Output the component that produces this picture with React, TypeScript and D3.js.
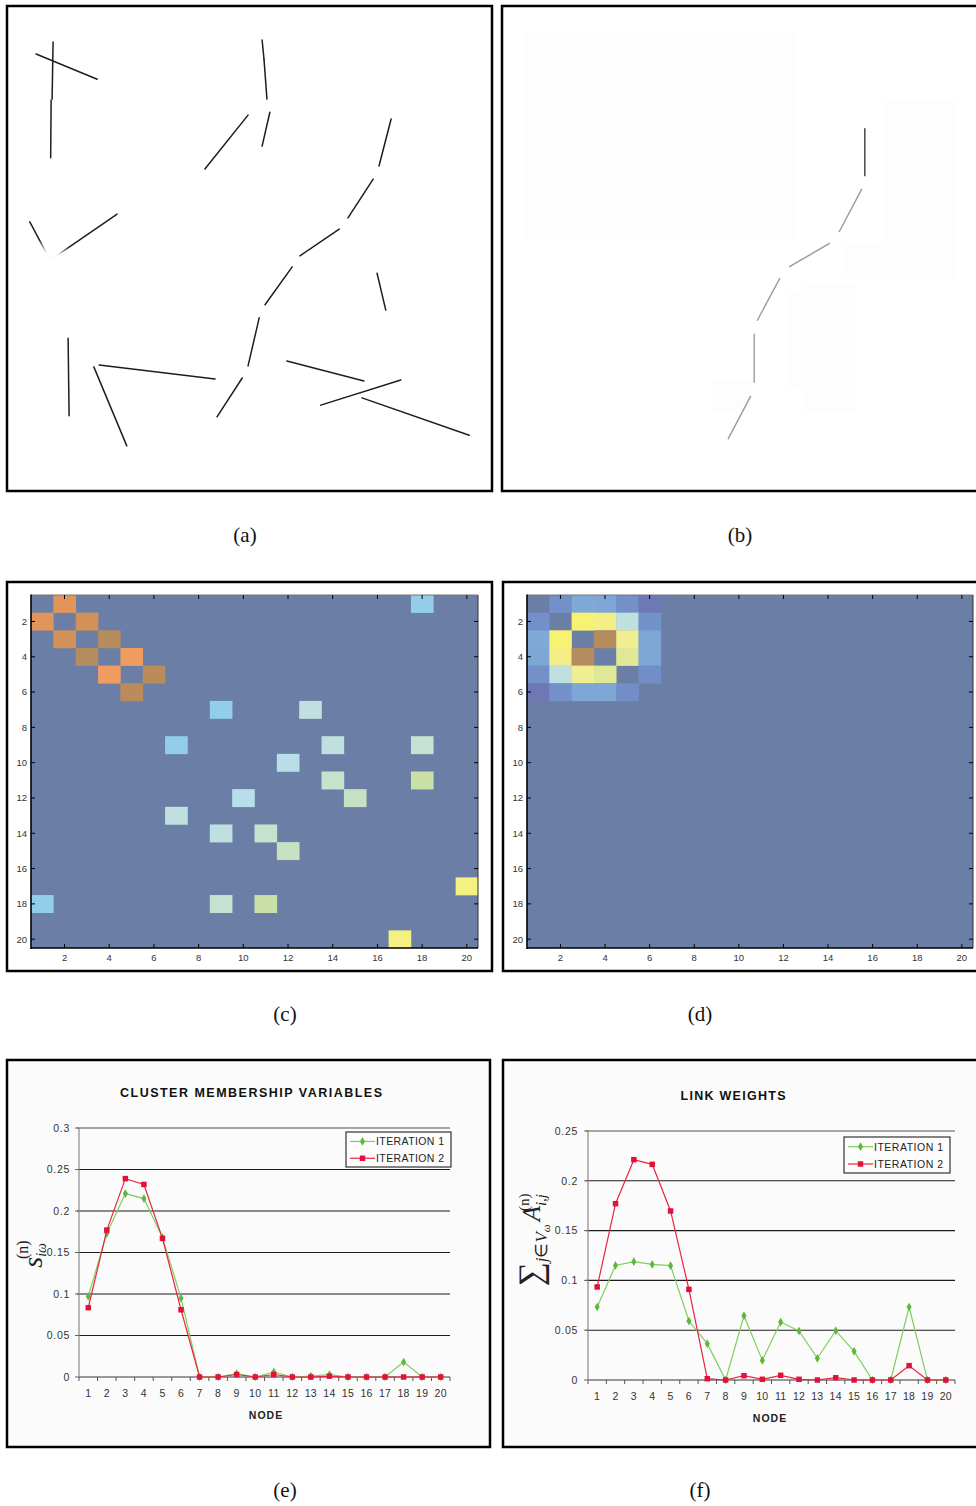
import React from 'react';
import * as d3 from 'd3';

const W = 976;
const H = 1506;
const SANS = '"Liberation Sans", Arial, sans-serif';
const SERIF = '"Liberation Serif", "Times New Roman", serif';

// ---- (a) line-segment scene, in frame units (0..100) ----
const sceneSegments: number[][] = [
  [9.5, 7.4, 9.3, 19.2],
  [9.1, 19.4, 9.0, 31.3],
  [6.0, 9.9, 18.6, 15.1],
  [52.6, 7.0, 53.0, 11.1],
  [53.0, 11.1, 53.6, 19.2],
  [54.2, 21.9, 52.6, 28.9],
  [49.7, 22.5, 40.8, 33.6],
  [79.2, 23.3, 76.7, 33.0],
  [75.5, 35.7, 70.3, 43.7],
  [68.5, 46.0, 60.4, 51.5],
  [58.8, 53.8, 53.2, 61.6],
  [76.3, 55.1, 78.1, 62.7],
  [52.0, 64.3, 49.7, 74.2],
  [12.6, 68.5, 12.8, 84.5],
  [19.0, 74.0, 42.9, 76.9],
  [17.9, 74.4, 24.7, 90.7],
  [48.5, 76.7, 43.3, 84.7],
  [57.7, 73.2, 73.6, 77.3],
  [81.2, 77.1, 64.7, 82.3],
  [73.2, 80.8, 95.3, 88.5],
];
// two strokes meeting at a washed-out junction
const fadedSegments: number[][] = [
  [4.7, 44.5, 8.9, 52.4],
  [22.7, 42.9, 8.9, 52.4],
];
const fadeCenter = [8.9, 52.6];

// ---- (b) extracted contour ----
const traceSegmentsDark: number[][] = [[74.8, 25.2, 74.8, 35.1]];
const traceSegments: number[][] = [
  [74.2, 37.7, 69.5, 46.6],
  [67.6, 48.9, 59.2, 53.8],
  [57.3, 56.1, 52.6, 64.9],
  [52.0, 67.6, 52.0, 77.7],
  [51.3, 80.4, 46.6, 89.3],
];
const traceRegions: number[][] = [
  [4.7, 5.2, 60.2, 48.5],
  [78.8, 19.6, 93.6, 56.5],
  [70.9, 48.9, 78.8, 56.1],
  [58.8, 59.2, 72.8, 78.8],
  [62.1, 57.1, 72.8, 83.9],
  [43.1, 76.9, 51.8, 83.7],
];

// ---- (c), (d) affinity matrices: [row, col, value], symmetric ----
const N = 20;
const matrixTicks = [2, 4, 6, 8, 10, 12, 14, 16, 18, 20];
const affinityEdges: number[][] = [
  [1, 2, 0.9],
  [2, 3, 0.92],
  [3, 4, 1.0],
  [4, 5, 0.85],
  [5, 6, 0.97],
  [1, 18, 0.4],
  [7, 9, 0.4],
  [7, 13, 0.52],
  [9, 14, 0.52],
  [9, 18, 0.55],
  [10, 12, 0.48],
  [11, 14, 0.56],
  [11, 18, 0.6],
  [12, 15, 0.57],
  [17, 20, 0.73],
];
const clusterEdges: number[][] = [
  [1, 2, 0.2],
  [1, 3, 0.3],
  [1, 4, 0.29],
  [1, 5, 0.2],
  [1, 6, 0.1],
  [2, 3, 0.76],
  [2, 4, 0.72],
  [2, 5, 0.52],
  [2, 6, 0.2],
  [3, 4, 1.0],
  [3, 5, 0.7],
  [3, 6, 0.29],
  [4, 5, 0.66],
  [4, 6, 0.29],
  [5, 6, 0.19],
];
const heatStops = [0, 0.1, 0.2, 0.3, 0.4, 0.48, 0.52, 0.56, 0.6, 0.66, 0.7, 0.76, 0.85, 0.9, 0.95, 1.0];
const heatColors = [
  '#6b7ea6', '#6e78b4', '#7390c8', '#80a9d8', '#92cde9', '#b8dfe9', '#c0e0e0', '#c5e3cc',
  '#cbe0a8', '#e0e898', '#f0ee90', '#f8f272', '#f09c60', '#e0955a', '#c08a5a', '#b58c5e',
];

// ---- (e), (f) per-node curves ----
const nodes = d3.range(1, 21);
const membershipIter1 = [0.097, 0.173, 0.221, 0.215, 0.168, 0.095, 0, 0, 0.004, 0, 0.006, 0, 0.001, 0.003, 0, 0, 0, 0.018, 0, 0];
const membershipIter2 = [0.0835, 0.177, 0.239, 0.232, 0.167, 0.081, 0, 0, 0.003, 0, 0.003, 0, 0, 0.001, 0, 0, 0, 0, 0, 0];
const membershipTicks = [0, 0.05, 0.1, 0.15, 0.2, 0.25, 0.3];
const linkIter1 = [0.0733, 0.115, 0.1188, 0.116, 0.1148, 0.0592, 0.0365, 0, 0.0646, 0.0197, 0.0582, 0.0492, 0.0218, 0.0495, 0.0288, 0, 0, 0.0733, 0, 0];
const linkIter2 = [0.0934, 0.177, 0.2212, 0.2165, 0.1697, 0.091, 0.0013, 0, 0.0043, 0.0007, 0.0047, 0.0007, 0, 0.0023, 0, 0, 0, 0.0144, 0, 0];
const linkTicks = [0, 0.05, 0.1, 0.15, 0.2, 0.25];
const seriesNames = ['ITERATION 1', 'ITERATION 2'];

const GREEN_LINE = '#7fcf5e';
const GREEN_MARK = '#5db83a';
const RED_LINE = '#e8253f';
const RED_MARK = '#e0123a';

type Box = { x: number; y: number; w: number; h: number };

function Scene({ frame, uid }: { frame: Box; uid: string }) {
  const sx = d3.scaleLinear().domain([0, 100]).range([frame.x, frame.x + 485]);
  const sy = d3.scaleLinear().domain([0, 100]).range([frame.y, frame.y + 485]);
  return (
    <g>
      <defs>
        <radialGradient id={uid}>
          <stop offset="0%" stopColor="#fff" stopOpacity={1} />
          <stop offset="40%" stopColor="#fff" stopOpacity={0.96} />
          <stop offset="100%" stopColor="#fff" stopOpacity={0} />
        </radialGradient>
      </defs>
      {sceneSegments.concat(fadedSegments).map((s, i) => (
        <line key={i} x1={sx(s[0])} y1={sy(s[1])} x2={sx(s[2])} y2={sy(s[3])}
          stroke="#1e1e1e" strokeWidth={1.5} strokeLinecap="round" />
      ))}
      <circle cx={sx(fadeCenter[0])} cy={sy(fadeCenter[1])} r={24} fill={`url(#${uid})`} />
    </g>
  );
}

function Trace({ frame }: { frame: Box }) {
  const sx = d3.scaleLinear().domain([0, 100]).range([frame.x, frame.x + 485]);
  const sy = d3.scaleLinear().domain([0, 100]).range([frame.y, frame.y + 485]);
  return (
    <g>
      {traceRegions.map((r, i) => (
        <rect key={i} x={sx(r[0])} y={sy(r[1])} width={sx(r[2]) - sx(r[0])} height={sy(r[3]) - sy(r[1])}
          fill="#fdfdfd" />
      ))}
      {traceSegmentsDark.map((s, i) => (
        <line key={'d' + i} x1={sx(s[0])} y1={sy(s[1])} x2={sx(s[2])} y2={sy(s[3])}
          stroke="#505050" strokeWidth={1.6} />
      ))}
      {traceSegments.map((s, i) => (
        <line key={i} x1={sx(s[0])} y1={sy(s[1])} x2={sx(s[2])} y2={sy(s[3])}
          stroke="#9a9a9a" strokeWidth={1.4} />
      ))}
    </g>
  );
}

function Heatmap({ area, edges }: { area: Box; edges: number[][] }) {
  const xs = d3.scaleLinear().domain([0.5, N + 0.5]).range([area.x, area.x + area.w]);
  const ys = d3.scaleLinear().domain([0.5, N + 0.5]).range([area.y, area.y + area.h]);
  const color = d3.scaleLinear<string>().domain(heatStops).range(heatColors).interpolate(d3.interpolateRgb).clamp(true);
  const m: number[][] = d3.range(N).map(() => new Array(N).fill(0));
  edges.forEach(([i, j, v]) => {
    m[i - 1][j - 1] = v;
    m[j - 1][i - 1] = v;
  });
  const cells: { r: number; c: number; v: number }[] = [];
  m.forEach((row, r) => row.forEach((v, c) => cells.push({ r: r + 1, c: c + 1, v })));
  const x0 = area.x, x1 = area.x + area.w, y0 = area.y, y1 = area.y + area.h;
  const tl = 4;
  return (
    <g>
      <rect x={x0} y={y0} width={area.w} height={area.h} fill={color(0)} />
      {cells.filter((d) => d.v > 0).map((d) => (
        <rect key={d.r + '-' + d.c}
          x={xs(d.c - 0.5)} y={ys(d.r - 0.5)}
          width={xs(d.c + 0.5) - xs(d.c - 0.5) + 0.3} height={ys(d.r + 0.5) - ys(d.r - 0.5) + 0.3}
          fill={color(d.v)} />
      ))}
      <line x1={x0} y1={y0} x2={x1} y2={y0} stroke="#777" strokeWidth={1} />
      <line x1={x1} y1={y0} x2={x1} y2={y1} stroke="#333" strokeWidth={1} />
      <line x1={x0} y1={y0 - 0.5} x2={x0} y2={y1 + 1} stroke="#000" strokeWidth={1.6} />
      <line x1={x0} y1={y1} x2={x1} y2={y1} stroke="#000" strokeWidth={1.6} />
      {matrixTicks.map((t) => (
        <g key={t}>
          <line x1={x0} y1={ys(t)} x2={x0 + tl} y2={ys(t)} stroke="#000" strokeWidth={1} />
          <line x1={x1} y1={ys(t)} x2={x1 - tl} y2={ys(t)} stroke="#000" strokeWidth={1} />
          <line x1={xs(t)} y1={y0} x2={xs(t)} y2={y0 + tl} stroke="#000" strokeWidth={1} />
          <line x1={xs(t)} y1={y1} x2={xs(t)} y2={y1 - tl} stroke="#000" strokeWidth={1} />
          <text x={x0 - 4} y={ys(t) + 3.4} textAnchor="end" fontFamily={SANS} fontSize={9.5} fill="#333">{t}</text>
          <text x={xs(t)} y={y1 + 12.5} textAnchor="middle" fontFamily={SANS} fontSize={9.5} fill="#333">{t}</text>
        </g>
      ))}
    </g>
  );
}

type ChartProps = {
  area: Box;
  ticks: number[];
  s1: number[];
  s2: number[];
  title: string;
  titleX: number;
  titleLen: number;
  labelRight: number;
  legend: { x: number; y: number; w: number; h: number };
  nodeX: number;
};

function LineChart({ area, ticks, s1, s2, title, titleX, titleLen, labelRight, legend, nodeX }: ChartProps) {
  const x = d3.scaleBand<number>().domain(nodes).range([area.x, area.x + area.w]);
  const yMax = ticks[ticks.length - 1];
  const y = d3.scaleLinear().domain([0, yMax]).range([area.y + area.h, area.y]);
  const cx = (n: number) => (x(n) as number) + x.bandwidth() / 2;
  const line = d3.line<number>().x((_, i) => cx(nodes[i])).y((v) => y(v));
  const diamond = d3.symbol().type(d3.symbolDiamond).size(22)() as string;
  const square = d3.symbol().type(d3.symbolSquare).size(30)() as string;
  const x0 = area.x, x1 = area.x + area.w;
  const base = y(0);
  const bounds = d3.range(0, nodes.length + 1).map((i) => area.x + i * x.bandwidth());
  return (
    <g>
      <text x={titleX} y={area.y - 31} textAnchor="middle" fontFamily={SANS} fontWeight="bold" fontSize={12.5}
        fill="#111" textLength={titleLen} lengthAdjust="spacing">{title}</text>
      {ticks.filter((t) => t > 0).map((t) => (
        <line key={'g' + t} x1={x0 - 2} y1={y(t)} x2={x1} y2={y(t)}
          stroke={t === yMax ? '#8a8a8a' : '#1c1c1c'} strokeWidth={t === yMax ? 1.4 : 1.1} />
      ))}
      <line x1={x0} y1={area.y} x2={x0} y2={base} stroke="#8a8a8a" strokeWidth={1.2} />
      {ticks.map((t) => (
        <g key={'t' + t}>
          <line x1={x0 - 4} y1={y(t)} x2={x0} y2={y(t)} stroke="#666" strokeWidth={1} />
          <text x={labelRight} y={y(t) + 3.8} textAnchor="end" fontFamily={SANS} fontSize={10.5}
            letterSpacing={0.7} fill="#333">{String(t)}</text>
        </g>
      ))}
      <line x1={x0} y1={base} x2={x1} y2={base} stroke="#777" strokeWidth={1.3} />
      {bounds.map((bx, i) => (
        <line key={'b' + i} x1={bx} y1={base} x2={bx} y2={base + 4} stroke="#555" strokeWidth={1} />
      ))}
      {nodes.map((n) => (
        <text key={'n' + n} x={cx(n)} y={base + 20} textAnchor="middle" fontFamily={SANS} fontSize={10.5}
          letterSpacing={0.3} fill="#333">{n}</text>
      ))}
      <text x={nodeX} y={base + 42} textAnchor="middle" fontFamily={SANS} fontWeight="bold" fontSize={10.5}
        fill="#222" letterSpacing={1}>NODE</text>

      <path d={line(s1) as string} fill="none" stroke={GREEN_LINE} strokeWidth={1.2} />
      {s1.map((v, i) => (
        <path key={'m1' + i} d={diamond} transform={`translate(${cx(nodes[i])},${y(v)})`} fill={GREEN_MARK} />
      ))}
      <path d={line(s2) as string} fill="none" stroke={RED_LINE} strokeWidth={1.2} />
      {s2.map((v, i) => (
        <path key={'m2' + i} d={square} transform={`translate(${cx(nodes[i])},${y(v)})`} fill={RED_MARK} />
      ))}

      <rect x={legend.x} y={legend.y} width={legend.w} height={legend.h} fill="#fcfcfc" stroke="#333" strokeWidth={1.2} />
      {seriesNames.map((name, i) => {
        const ly = legend.y + legend.h * (i === 0 ? 0.27 : 0.75);
        const lx0 = legend.x + 4;
        const lx1 = legend.x + 29;
        return (
          <g key={name}>
            <line x1={lx0} y1={ly} x2={lx1} y2={ly} stroke={i === 0 ? GREEN_LINE : RED_LINE} strokeWidth={1.2} />
            <path d={i === 0 ? diamond : square} transform={`translate(${(lx0 + lx1) / 2},${ly})`}
              fill={i === 0 ? GREEN_MARK : RED_MARK} />
            <text x={lx1 + 1} y={ly + 3.8} fontFamily={SANS} fontSize={10.5} fill="#222"
              textLength={legend.w - 37} lengthAdjust="spacing">{name}</text>
          </g>
        );
      })}
    </g>
  );
}

function Caption({ x, y, label }: { x: number; y: number; label: string }) {
  return (
    <text x={x} y={y} textAnchor="middle" fontFamily={SERIF} fontSize={21} fill="#111">{label}</text>
  );
}

export default function App() {
  const frameA: Box = { x: 7, y: 6, w: 485, h: 485 };
  const frameB: Box = { x: 502, y: 6, w: 490, h: 485 };
  return (
    <svg width={W} height={H} viewBox={`0 0 ${W} ${H}`} style={{ position: 'absolute', left: 0, top: 0, background: '#fff' }}>
      <rect x={0} y={0} width={W} height={H} fill="#fff" />

      {/* (a) */}
      <Scene frame={frameA} uid="fadeA" />
      <rect x={frameA.x} y={frameA.y} width={frameA.w} height={frameA.h} fill="none" stroke="#000" strokeWidth={2.5} />
      <Caption x={245} y={542} label="(a)" />

      {/* (b) */}
      <Trace frame={frameB} />
      <rect x={frameB.x} y={frameB.y} width={frameB.w} height={frameB.h} fill="none" stroke="#000" strokeWidth={2.5} />
      <Caption x={740} y={542} label="(b)" />

      {/* (c) */}
      <Heatmap area={{ x: 31, y: 595, w: 447, h: 353 }} edges={affinityEdges} />
      <rect x={7} y={582} width={485} height={389} fill="none" stroke="#000" strokeWidth={2.5} />
      <Caption x={285} y={1021} label="(c)" />

      {/* (d) */}
      <Heatmap area={{ x: 527, y: 595, w: 446, h: 353 }} edges={clusterEdges} />
      <rect x={503} y={582} width={490} height={389} fill="none" stroke="#000" strokeWidth={2.5} />
      <Caption x={700} y={1021} label="(d)" />

      {/* (e) */}
      <rect x={7} y={1060} width={483} height={387} fill="#fbfbfb" />
      <LineChart area={{ x: 79, y: 1128, w: 371, h: 249 }} ticks={membershipTicks}
        s1={membershipIter1} s2={membershipIter2}
        title="CLUSTER MEMBERSHIP VARIABLES" titleX={251} titleLen={262} labelRight={70}
        legend={{ x: 346, y: 1132, w: 105, h: 35 }} nodeX={266} />
      <text transform="translate(42,1254) rotate(-90)" textAnchor="middle" fontFamily={SERIF} fontSize={28} fill="#222">
        <tspan fontStyle="italic">s</tspan>
        <tspan fontSize={14} fontStyle="italic" dy={4}>iω</tspan>
        <tspan fontSize={16} dx={-16} dy={-18}>(n)</tspan>
      </text>
      <rect x={7} y={1060} width={483} height={387} fill="none" stroke="#000" strokeWidth={2.5} />
      <Caption x={285} y={1497} label="(e)" />

      {/* (f) */}
      <rect x={503} y={1060} width={490} height={387} fill="#fbfbfb" />
      <LineChart area={{ x: 588, y: 1131, w: 367, h: 249 }} ticks={linkTicks}
        s1={linkIter1} s2={linkIter2}
        title="LINK WEIGHTS" titleX={733} titleLen={105} labelRight={578}
        legend={{ x: 844, y: 1137, w: 106, h: 36 }} nodeX={770} />
      <text transform="translate(540,1240) rotate(-90)" textAnchor="middle" fontFamily={SERIF} fontSize={25} fill="#222">
        <tspan fontSize={34} dy={2}>∑</tspan>
        <tspan fontSize={17} fontStyle="italic" dy={5}>j</tspan>
        <tspan fontSize={17}>∈</tspan>
        <tspan fontSize={17} fontStyle="italic">V</tspan>
        <tspan fontSize={11} fontStyle="italic" dy={3}>ω</tspan>
        <tspan fontSize={25} fontStyle="italic" dx={3} dy={-10}>A</tspan>
        <tspan fontSize={15} fontStyle="italic" dy={6}>i,j</tspan>
        <tspan fontSize={15} dx={-17} dy={-17}>(n)</tspan>
      </text>
      <rect x={503} y={1060} width={490} height={387} fill="none" stroke="#000" strokeWidth={2.5} />
      <Caption x={700} y={1497} label="(f)" />
    </svg>
  );
}
